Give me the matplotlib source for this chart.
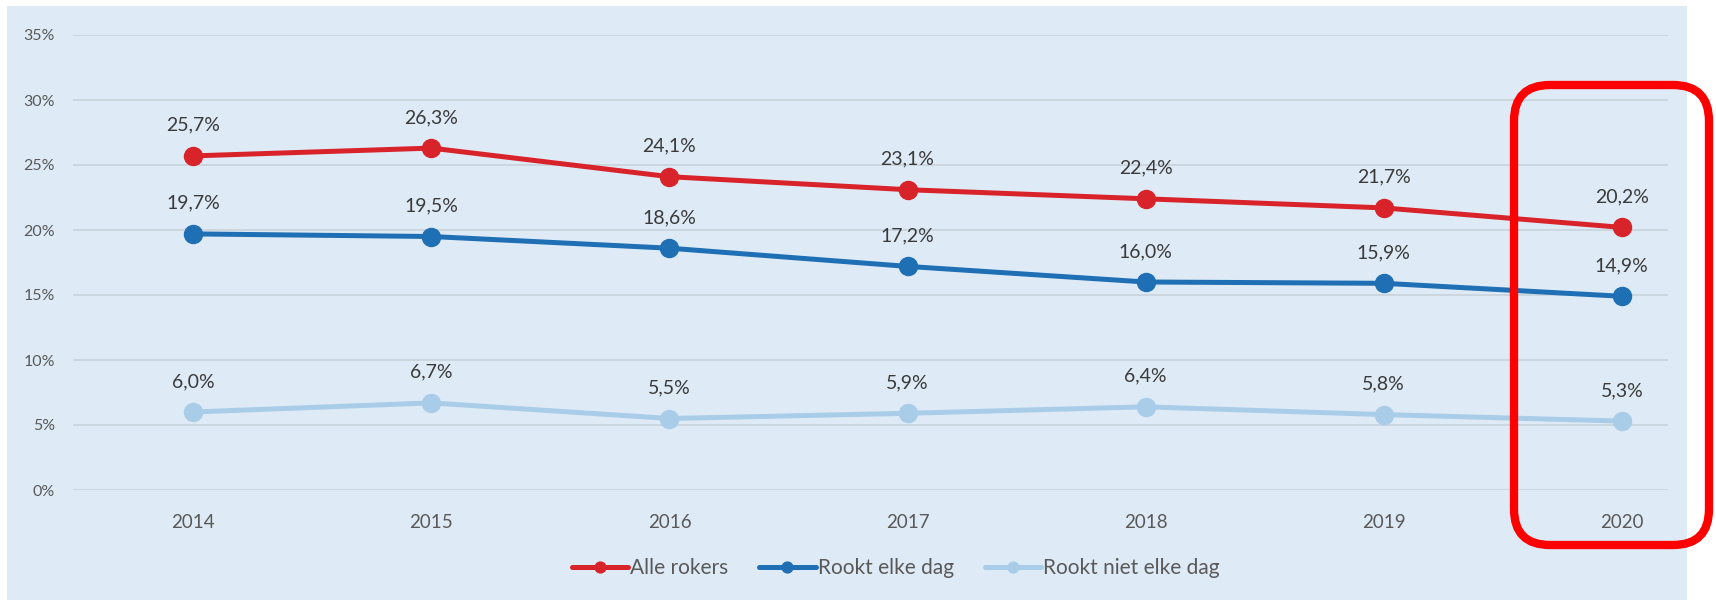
import numpy as np
import matplotlib
matplotlib.use("Agg")
from matplotlib import pyplot as plt
from matplotlib.patches import Rectangle, FancyBboxPatch
from matplotlib.transforms import IdentityTransform

years = ["2014", "2015", "2016", "2017", "2018", "2019", "2020"]
alle_rokers = [25.7, 26.3, 24.1, 23.1, 22.4, 21.7, 20.2]
elke_dag = [19.7, 19.5, 18.6, 17.2, 16.0, 15.9, 14.9]
niet_elke_dag = [6.0, 6.7, 5.5, 5.9, 6.4, 5.8, 5.3]
series_names = ["Alle rokers", "Rookt elke dag", "Rookt niet elke dag"]
y_ticks = [0, 5, 10, 15, 20, 25, 30, 35]

colors = ["#d9232a", "#1f6fb4", "#a9cde8"]
plt.rcParams['font.family'] = ['Lato', 'DejaVu Sans']

fig = plt.figure(figsize=(17.16, 6.05), dpi=100, facecolor="white")
# light blue panel behind the chart
fig.patches.append(Rectangle((7/1716, 1-600/605), (1687-7)/1716, (600-6)/605,
                             transform=fig.transFigure, facecolor="#deebf6",
                             edgecolor="none", zorder=-5))

ax = fig.add_axes([73/1716, 1-490/605, (1668-73)/1716, (490-35)/605])
ax.set_facecolor("none")
x = np.arange(len(years))

for vals, name, c in zip([alle_rokers, elke_dag, niet_elke_dag], series_names, colors):
    ax.plot(x, vals, color=c, lw=3.6, marker="o", markersize=13, label=name,
            solid_capstyle="round", zorder=3)
    for xi, v in zip(x, vals):
        ax.annotate("{:.1f}%".format(v).replace(".", ","), (xi, v), xytext=(0, 22),
                    textcoords="offset points", ha="center", va="center",
                    fontsize=14, color="#3a3a3a")

ax.set_xlim(-0.505, 6.194)
ax.set_ylim(0, 35)
ax.set_yticks(y_ticks)
ax.set_yticklabels(["{}%".format(t) for t in y_ticks])
ax.set_xticks(x)
ax.set_xticklabels(years)
ax.grid(axis="y", color="#c8d2db", lw=1.2)
ax.set_axisbelow(True)
for s in ax.spines.values():
    s.set_visible(False)
ax.tick_params(axis="y", length=0, pad=13, labelsize=11.5, labelcolor="#595959")
ax.tick_params(axis="x", length=0, pad=17, labelsize=13.5, labelcolor="#595959")

leg = fig.legend(loc="center", bbox_to_anchor=(0.522, 1-568/605), ncol=3,
                 frameon=False, fontsize=15, handlelength=2.7, handletextpad=0.1,
                 columnspacing=1.5, markerscale=0.6, labelcolor="#595959")

# red highlight around 2020
fig.patches.append(FancyBboxPatch((1514, 605-545), 1709-1514, 545-85,
                                  boxstyle="round,pad=0,rounding_size=36",
                                  transform=IdentityTransform(), facecolor="none",
                                  edgecolor="#ff0000", lw=6, zorder=10))

plt.savefig("out.png", dpi=100)
